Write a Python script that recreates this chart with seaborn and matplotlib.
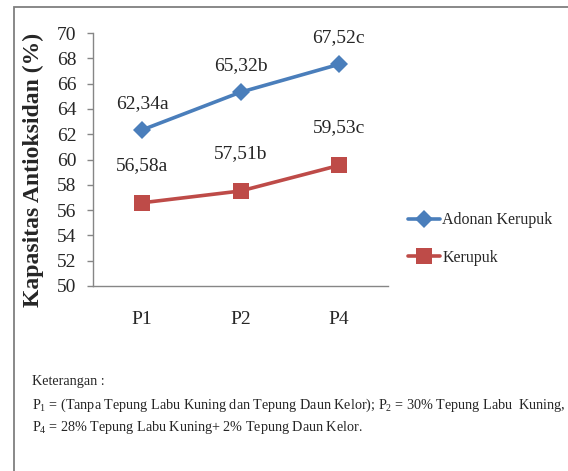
import matplotlib
matplotlib.use("Agg")
import matplotlib.pyplot as plt
import matplotlib.patches as mpatches
import seaborn as sns
import pandas as pd

# Perlakuan dan nilai kapasitas antioksidan (%)
perlakuan = ["P1", "P2", "P4"]
adonan_kerupuk = [62.34, 65.32, 67.52]
kerupuk = [56.58, 57.51, 59.53]
notasi_adonan = ["a", "b", "c"]
notasi_kerupuk = ["a", "b", "c"]
seri = ["Adonan Kerupuk", "Kerupuk"]
y_ticks = list(range(50, 71, 2))

df = pd.DataFrame({
    "pos": list(range(len(perlakuan))) * 2,
    "nilai": adonan_kerupuk + kerupuk,
    "seri": [seri[0]] * len(perlakuan) + [seri[1]] * len(perlakuan),
})

sns.set_style("white")
plt.rcParams["font.family"] = ["Liberation Serif", "DejaVu Serif"]
plt.rcParams["mathtext.fontset"] = "custom"
plt.rcParams["mathtext.rm"] = "Liberation Serif"
plt.rcParams["mathtext.it"] = "Liberation Serif:italic"
plt.rcParams["mathtext.bf"] = "Liberation Serif:bold"

W, H = 568, 471
fig = plt.figure(figsize=(W / 100, H / 100), dpi=100)
fig.patch.set_facecolor("white")

# chart-area border (only top and left edges fall inside the image)
fig.patches.append(mpatches.Rectangle((14 / W, -0.2), 1.2, 1.2 - 7 / H,
                                      transform=fig.transFigure, fill=False,
                                      edgecolor="#7f7f7f", linewidth=1.3,
                                      clip_on=False))

ax = fig.add_axes([93 / W, 1 - 286 / H, 295 / W, 253 / H])

blue = "#4A7EBB"
red = "#BE4B48"
sns.lineplot(data=df, x="pos", y="nilai", hue="seri", style="seri",
             palette=[blue, red], markers=["D", "s"], dashes=False,
             linewidth=2.6, markersize=9, markeredgewidth=0, ax=ax)
# larger square markers for the second series
for ln in ax.get_lines():
    if ln.get_marker() == "s":
        ln.set_markersize(11)

ax.set_xlim(-0.5, len(perlakuan) - 0.5)
ax.set_ylim(50, 70)
ax.set_yticks(y_ticks)
ax.set_yticklabels([str(v) for v in y_ticks], fontsize=14)
ax.set_xticks([i - 0.5 for i in range(len(perlakuan) + 1)])
ax.set_xticklabels([])
ax.set_xticks(range(len(perlakuan)), minor=True)
ax.set_xticklabels(perlakuan, minor=True, fontsize=14)
ax.tick_params(axis="x", which="major", direction="out", length=4,
               color="#868686", width=1)
ax.tick_params(axis="x", which="minor", length=0, pad=18)
ax.tick_params(axis="y", direction="out", length=4, color="#868686",
               width=1, pad=8, left=True)
ax.set_xlabel("")
ax.set_ylabel("Kapasitas Antioksidan (%)", fontsize=17, fontweight="bold")
ax.yaxis.set_label_coords(-0.165, 0.46)

for side in ["top", "right"]:
    ax.spines[side].set_visible(False)
for side in ["left", "bottom"]:
    ax.spines[side].set_color("#868686")
    ax.spines[side].set_linewidth(1)

# value labels with significance letters
def label(v, huruf):
    return f"{v:.2f}".replace(".", ",") + huruf

for i, (v, h) in enumerate(zip(adonan_kerupuk, notasi_adonan)):
    ax.annotate(label(v, h), (i, v), xytext=(0, 19), textcoords="offset points",
                ha="center", va="center", fontsize=14)
for i, (v, h) in enumerate(zip(kerupuk, notasi_kerupuk)):
    ax.annotate(label(v, h), (i, v), xytext=(0, 27), textcoords="offset points",
                ha="center", va="center", fontsize=14)

handles, labels = ax.get_legend_handles_labels()
ax.legend(handles, labels, loc="center left",
          bbox_to_anchor=(408 / W, 1 - 239 / H), bbox_transform=fig.transFigure,
          frameon=False, fontsize=11.5, handlelength=2.0, handletextpad=0.15,
          labelspacing=1.35, borderpad=0, borderaxespad=0)

# keterangan perlakuan
fs = 10.2
fig.text(32 / W, 1 - 381 / H, "Keterangan :", fontsize=fs, va="center")
fig.text(32 / W, 1 - 405 / H,
         r"P$_{\mathrm{1}}$ = (Tanpa Tepung Labu Kuning dan Tepung Daun Kelor); "
         r"P$_{\mathrm{2}}$ = 30% Tepung Labu  Kuning,",
         fontsize=fs, va="center")
fig.text(32 / W, 1 - 428 / H,
         r"P$_{\mathrm{4}}$ = 28% Tepung Labu Kuning+ 2% Tepung Daun Kelor.",
         fontsize=fs, va="center")

fig.savefig("out.png", dpi=100)
